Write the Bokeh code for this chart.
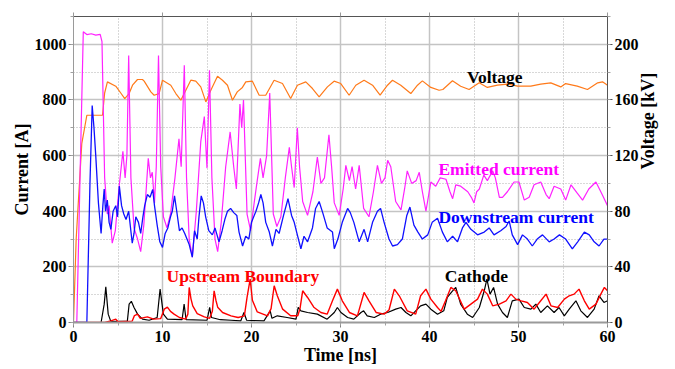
import math
from bokeh.plotting import figure
from bokeh.models import Range1d, LinearAxis, SingleIntervalTicker, CustomJSTickFormatter
from bokeh.core.properties import value
from bokeh.embed import file_html
from bokeh.resources import INLINE

# ---- Voltage [kV] (right axis) ----
t_voltage = [0, 0.3, 0.93, 1.5, 2.5, 3.26, 3.5, 3.81, 4.75, 5.31, 5.76, 6.25, 6.63, 7.19, 7.75,
             7.94, 8.69, 9.06, 9.62, 10.0, 10.93, 11.5, 12.06, 12.62, 13.18, 13.74, 14.3, 14.87,
             15.43, 16.18, 16.74, 17.3, 17.86, 18.4, 18.98, 19.36, 20.1, 20.86, 21.6, 22.54,
             23.48, 24.4, 25.16, 26.1, 26.85, 27.6, 28.53, 29.28, 30.03, 30.97, 31.72, 32.65,
             33.6, 34.45, 35.28, 35.84, 36.77, 37.9, 38.65, 39.2, 40.15, 41.08, 41.5, 42.58,
             43.5, 44.45, 45.58, 46.5, 47.64, 48.76, 49.9, 51.38, 52.5, 53.63, 54.75, 55.3,
             56.6, 57.75, 58.9, 59.44, 60.0]
voltage_kv = [0, 60, 128.6, 149, 149, 149, 165, 173, 169.9, 165, 161, 164.6, 170.6, 174.7, 174.7,
              173.5, 165.8, 163.4, 164.6, 174.2, 170.6, 164.6, 159.8, 167, 174.2, 173.5, 169.4,
              158.6, 167, 177.1, 174.2, 170.6, 159.8, 165.8, 169, 173, 173.5, 163.4, 163.4,
              174.2, 171.8, 161, 170.6, 173, 168.2, 162.2, 169.4, 173.5, 171.8, 163.4, 170.6,
              174.2, 170.6, 163.4, 170.6, 174.2, 170.6, 164.6, 170.6, 173.7, 169, 167, 167.5,
              173.8, 169.9, 167.5, 172.3, 169, 170.6, 171.4, 169.9, 169.9, 171.4, 172.3, 169.4,
              171.8, 169.9, 167.5, 172.3, 173, 170.6]

# ---- Emitted current [A] ----
t_emitted = [0, 0.37, 1.1, 1.5, 2.0, 2.5, 3.0, 3.2, 3.5, 3.8, 4.0, 4.35, 4.7, 5.1, 5.55, 5.8,
             6.0, 6.2, 6.45, 6.8, 7.2, 7.55, 7.9, 8.4, 8.65, 8.85, 9.1, 9.3, 9.55, 9.8, 10.1,
             10.5, 10.9, 11.4, 11.85, 12.1, 12.45, 12.7, 13.0, 13.35, 13.8, 14.3, 14.7, 15.0,
             15.28, 15.55, 15.9, 16.2, 16.6, 17.1, 17.6, 18.0, 18.3, 18.7, 18.9, 19.1, 19.5,
             19.9, 20.3, 20.6, 21.0, 21.3, 21.7, 22.05, 22.45, 22.85, 23.3, 23.8, 24.25, 24.5,
             24.8, 25.15, 25.4, 25.75, 26.3, 26.9, 27.4, 27.8, 28.2, 28.7, 29.0, 29.3, 29.85,
             30.3, 30.6, 31.0, 31.3, 31.7, 32.1, 32.6, 33.2, 33.7, 34.15, 34.6, 35.0, 35.3,
             35.65, 36.2, 36.8, 37.2, 37.5, 38.0, 38.5, 38.85, 39.2, 39.6, 40.15, 40.7, 41.2,
             41.85, 42.3, 42.6, 42.95, 43.5, 43.9, 44.3, 44.7, 45.0, 45.3, 45.6, 46.1, 46.5,
             47.1, 47.4, 47.85, 48.2, 48.75, 49.5, 50.05, 50.65, 51.2, 51.75, 52.5, 53.1,
             53.45, 54.0, 54.75, 55.3, 55.9, 56.6, 57.2, 57.9, 58.7, 59.4, 60.0]
emitted_a = [0, 0, 1045, 1035, 1038, 1033, 1036, 1010, 520, 390, 420, 285, 330, 480, 615, 520,
             600, 960, 520, 340, 300, 255, 350, 590, 520, 540, 430, 560, 960, 560, 380,
             340, 390, 520, 660, 560, 925, 520, 300, 235, 400, 650, 740, 555,
             907, 520, 300, 255, 360, 560, 685, 560, 480, 785, 700, 800, 390,
             330, 430, 500, 590, 520, 600, 825, 390, 345, 380, 520, 630, 560,
             485, 700, 560, 435, 385, 470, 595, 500, 520, 675, 560, 430, 385,
             480, 565, 510, 560, 480, 565, 410, 380, 470, 565, 500, 520, 583,
             560, 435, 405, 480, 545, 500, 510, 540, 470, 400, 505, 490, 520,
             515, 470, 445, 495, 490, 480, 470, 450, 430, 470, 480, 530, 510,
             545, 520, 450, 450, 470, 505, 505, 440, 450, 495, 505, 460,
             445, 490, 480, 440, 495, 465, 440, 480, 505, 460, 420]

# ---- Downstream current [A] ----
t_downstream = [0, 1.5, 1.85, 2.1, 2.3, 2.5, 2.8, 3.1, 3.3, 3.45, 3.6, 3.8, 4.0, 4.2, 4.45, 4.75,
                4.95, 5.15, 5.4, 5.65, 5.9, 6.2, 6.6, 6.8, 7.0, 7.3, 7.55, 7.8, 8.0, 8.3, 8.6,
                8.9, 9.1, 9.4, 9.7, 10.0, 10.3, 10.6, 10.9, 11.1, 11.35, 11.6, 11.9, 12.2, 12.5,
                12.75, 13.0, 13.35, 13.6, 13.9, 14.1, 14.35, 14.6, 14.85, 15.2, 15.6, 15.9,
                16.35, 16.7, 17.0, 17.3, 17.65, 18.0, 18.35, 18.6, 19.0, 19.35, 19.7, 20.0,
                20.5, 20.8, 21.05, 21.3, 21.6, 22.0, 22.35, 22.75, 23.1, 23.6, 24.1, 24.5, 24.8,
                25.15, 25.55, 25.9, 26.3, 26.85, 27.2, 27.6, 28.0, 28.5, 29.1, 29.3, 29.7, 30.2,
                30.8, 31.1, 31.5, 32.1, 32.65, 33.05, 33.6, 34.15, 34.5, 34.9, 35.45, 35.85,
                36.4, 36.95, 37.45, 37.8, 38.25, 38.7, 39.2, 39.8, 40.3, 40.9, 41.45, 42.0,
                42.6, 43.15, 43.7, 44.1, 44.65, 45.4, 46.15, 46.7, 47.25, 48.0, 48.6, 48.95,
                49.3, 49.9, 50.45, 51.0, 51.55, 52.1, 52.7, 53.45, 54.0, 54.6, 55.3, 56.05,
                56.65, 57.4, 57.95, 58.5, 59.05, 59.6, 60.0]
downstream_a = [0, 0, 500, 780, 700, 600, 430, 320, 420, 480, 400, 440, 360, 335, 400, 420,
                380, 490, 420, 390, 370, 400, 285, 320, 380, 360, 320, 380, 420, 460, 450,
                478, 420, 350, 290, 270, 320, 340, 380, 400, 455, 400, 330, 340, 320,
                300, 280, 235, 330, 300, 380, 455, 430, 380, 330, 315, 340,
                290, 330, 370, 400, 410, 395, 385, 325, 275, 310, 300, 360,
                400, 430, 460, 430, 360, 325, 275, 335, 320, 385, 445, 385, 360,
                315, 265, 310, 290, 340, 410, 435, 395, 340, 325, 265, 300, 360,
                410, 395, 360, 290, 335, 290, 360, 400, 410, 360, 300, 275,
                280, 300, 385, 415, 350, 325, 300, 315, 360, 375, 325, 290,
                310, 290, 340, 360, 335, 315, 325, 340, 315, 330, 345, 365,
                315, 280, 315, 300, 275, 300, 315, 290, 300, 315, 300, 265,
                290, 325, 315, 290, 275, 300, 300]

# ---- Upstream boundary current [A] ----
t_upstream = [0, 3.5, 4.2, 4.75, 5.0, 6.6, 6.85, 7.2, 7.5, 8.3, 9.0, 9.8, 10.2, 10.55, 10.9,
              11.3, 11.9, 12.6, 12.85, 13.0, 13.2, 13.4, 13.9, 14.7, 15.3, 15.6, 15.8, 16.0,
              16.2, 16.75, 17.7, 18.5, 19.2, 19.5, 19.85, 20.1, 20.65, 21.8, 22.2, 22.55, 22.9,
              23.5, 24.4, 25.2, 25.45, 25.75, 26.3, 27.0, 27.8, 28.5, 29.1, 29.65, 30.2, 31.0,
              31.9, 32.65, 33.2, 34.0, 34.9, 35.45, 36.05, 36.6, 37.5, 38.45, 39.0, 39.6,
              40.15, 40.9, 41.3, 41.8, 42.4, 42.95, 43.9, 44.65, 45.4, 45.95, 46.5, 47.1,
              47.85, 48.6, 49.15, 49.7, 50.3, 51.0, 51.75, 52.5, 53.1, 53.65, 54.4, 55.15,
              55.7, 56.25, 56.8, 57.4, 57.95, 58.7, 59.25, 59.65, 60.0]
upstream_a = [0, 0, 6, 12, 3, 5, 25, 30, 15, 20, 12, 14, 48, 55, 40,
              30, 18, 12, 30, 126, 85, 60, 32, 20, 15, 40, 114, 80,
              55, 36, 24, 18, 24, 90, 156, 80, 38, 24, 50, 132, 96,
              48, 24, 24, 50, 114, 90, 55, 36, 30, 78, 120, 78, 36,
              24, 108, 78, 36, 30, 45, 120, 96, 42, 30, 96, 120,
              84, 54, 40, 78, 126, 114, 48, 66, 84, 120, 102, 60,
              66, 78, 102, 84, 78, 72, 48, 78, 102, 60, 54, 84,
              96, 102, 120, 78, 48, 66, 102, 126, 114]

# ---- Cathode current [A] ----
t_cathode = [0, 3.1, 3.45, 3.63, 3.9, 4.2, 6.05, 6.25, 6.5, 6.8, 7.2, 7.75, 8.5, 9.4, 9.73,
             10.1, 10.55, 12.2, 12.43, 12.65, 15.0, 15.3, 15.5, 16.5, 17.7, 18.8, 19.15, 19.45,
             21.4, 22.1, 22.3, 22.9, 24.0, 25.0, 25.25, 25.55, 26.3, 27.4, 28.5, 29.3, 29.65,
             30.05, 30.8, 31.5, 32.3, 32.6, 33.0, 33.8, 34.5, 35.3, 36.2, 36.8, 37.35, 37.9,
             38.45, 39.0, 39.6, 40.15, 40.9, 41.6, 42.0, 42.5, 42.95, 43.5, 44.25, 44.85,
             45.6, 46.15, 46.45, 46.8, 47.2, 47.65, 48.2, 48.75, 49.3, 50.05, 50.65, 51.4,
             51.95, 52.5, 53.25, 54.0, 54.55, 55.15, 55.7, 56.45, 57.0, 57.75, 58.5, 59.05,
             59.6, 60.0]
cathode_a = [0, 0, 66, 128, 30, 3, 5, 66, 76, 54, 30, 12, 8, 18, 120,
             30, 12, 10, 66, 10, 8, 54, 18, 10, 8, 6, 36, 8,
             6, 42, 15, 24, 18, 12, 54, 42, 36, 30, 12, 36, 54,
             36, 18, 12, 36, 42, 24, 18, 30, 36, 48, 54, 36, 24,
             42, 60, 66, 48, 30, 42, 90, 110, 126, 66, 30, 18,
             54, 114, 156, 102, 126, 66, 36, 18, 78, 84, 54, 48,
             66, 36, 60, 36, 54, 24, 48, 78, 42, 18, 48, 96,
             72, 78]

SERIF = "Liberation Serif"

p = figure(width=675, height=369, x_range=Range1d(0, 60), y_range=Range1d(0, 1100),
           output_backend="svg", toolbar_location=None,
           min_border_left=73, min_border_right=68, min_border_top=16, min_border_bottom=47)
p.extra_y_ranges = {"kv": Range1d(0, 220)}
p.outline_line_color = None
p.background_fill_color = "white"

x_ticker = SingleIntervalTicker(interval=10, num_minor_ticks=2)
y_ticker = SingleIntervalTicker(interval=200, num_minor_ticks=2)

# bottom axis
xa = p.xaxis[0]
xa.ticker = x_ticker
xa.axis_label = "Time [ns]"
xa.axis_line_color = "#9a9a9a"
xa.axis_line_width = 2

# left axis
ya = p.yaxis[0]
ya.ticker = y_ticker
ya.axis_label = "Current [A]"
ya.axis_line_color = "#9a9a9a"

# right axis (voltage)
ra = LinearAxis(y_range_name="kv", ticker=SingleIntervalTicker(interval=40, num_minor_ticks=2),
                axis_label="Voltage [kV]")
ra.axis_line_color = "#555555"
ra.axis_label_orientation = math.pi / 2
p.add_layout(ra, "right")

# top frame edge with short tick marks, no labels
ta = LinearAxis(ticker=SingleIntervalTicker(interval=10, num_minor_ticks=2),
                formatter=CustomJSTickFormatter(code="return ''"))
ta.axis_line_color = "#555555"
ta.major_tick_out = 4
ta.major_tick_in = 0
ta.minor_tick_out = 0
ta.minor_tick_in = 0
ta.major_tick_line_color = "#999999"
ta.major_label_standoff = 0
p.add_layout(ta, "above")

for ax in (xa, ya, ra):
    ax.major_tick_out = 5
    ax.major_tick_in = 0
    ax.minor_tick_out = 3
    ax.minor_tick_in = 0
    ax.major_tick_line_color = "#808080"
    ax.minor_tick_line_color = "#a0a0a0"
    ax.major_label_standoff = 2
    ax.major_label_text_font = SERIF
    ax.major_label_text_font_style = "bold"
    ax.major_label_text_font_size = "16px"
    ax.major_label_text_color = "black"
    ax.axis_label_text_font = SERIF
    ax.axis_label_text_font_style = "bold"
    ax.axis_label_text_font_size = "18px"
    ax.axis_label_text_color = "black"
    ax.axis_label_standoff = 6
ra.major_tick_line_color = "#555555"
xa.major_label_standoff = 3
xa.axis_label_standoff = 0
ya.axis_label_standoff = 0

# grid: solid at major ticks, dotted at minor ticks
for g in (p.xgrid[0], p.ygrid[0]):
    g.grid_line_color = "#c4c4c4"
    g.grid_line_width = 1.5
    g.minor_grid_line_color = "#b0b0b0"
    g.minor_grid_line_dash = "1 2"
    g.minor_grid_line_width = 1
p.xgrid[0].ticker = x_ticker
p.ygrid[0].ticker = y_ticker

# traces
p.line(t_voltage, voltage_kv, y_range_name="kv", line_color="#ff7a1a", line_width=1.2)
p.line(t_emitted, emitted_a, line_color="#ff22ff", line_width=1.2)
p.line(t_cathode, cathode_a, line_color="black", line_width=1.2)
p.line(t_upstream, upstream_a, line_color="#ff0000", line_width=1.4)
p.line(t_downstream, downstream_a, line_color="#1010ff", line_width=1.3)

# trace labels
def tag(x, y, txt, color):
    p.text(x=[x], y=[y], text=[txt], text_color=color, text_font=value(SERIF),
           text_font_style="bold", text_font_size="17.5px",
           text_align="left", text_baseline="alphabetic")

tag(44.2, 881, "Voltage", "black")
tag(41.0, 553, "Emitted current", "#ff00ff")
tag(41.0, 378, "Downstream current", "#0000ff")
tag(10.45, 168, "Upstream Boundary", "#ff0000")
tag(41.72, 168, "Cathode", "black")

open("out.html", "w").write(file_html(p, INLINE))
